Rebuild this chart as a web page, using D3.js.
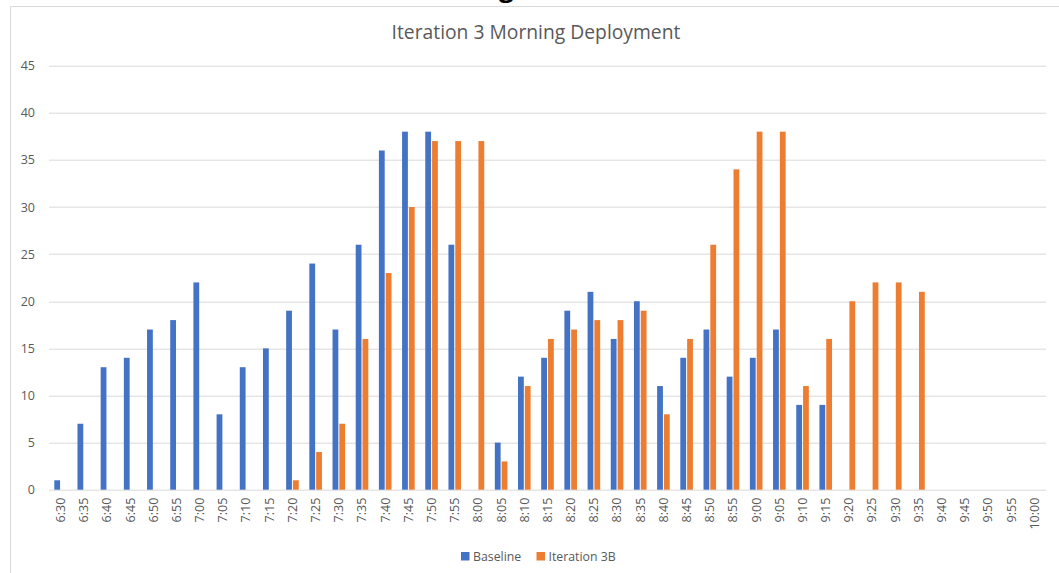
<!DOCTYPE html>
<html>
<head>
<meta charset="utf-8">
<script src="https://cdnjs.cloudflare.com/ajax/libs/d3/7.8.5/d3.min.js"></script>
<style>
  body { margin: 0; background: #fff; }
  svg { display: block; font-family: "Open Sans", sans-serif; }
  .axis text { fill: #595959; }
</style>
</head>
<body>
<svg width="1059" height="573"></svg>
<script>
var times = ["6:30", "6:35", "6:40", "6:45", "6:50", "6:55", "7:00", "7:05", "7:10", "7:15",
  "7:20", "7:25", "7:30", "7:35", "7:40", "7:45", "7:50", "7:55", "8:00", "8:05",
  "8:10", "8:15", "8:20", "8:25", "8:30", "8:35", "8:40", "8:45", "8:50", "8:55",
  "9:00", "9:05", "9:10", "9:15", "9:20", "9:25", "9:30", "9:35", "9:40", "9:45",
  "9:50", "9:55", "10:00"];

var baseline = [1, 7, 13, 14, 17, 18, 22, 8, 13, 15,
  19, 24, 17, 26, 36, 38, 38, 26, 0, 5,
  12, 14, 19, 21, 16, 20, 11, 14, 17, 12,
  14, 17, 9, 9, 0, 0, 0, 0, 0, 0,
  0, 0, 0];

var iteration3B = [0, 0, 0, 0, 0, 0, 0, 0, 0, 0,
  1, 4, 7, 16, 23, 30, 37, 37, 37, 3,
  11, 16, 17, 18, 18, 19, 8, 16, 26, 34,
  38, 38, 11, 16, 20, 22, 22, 21, 0, 0,
  0, 0, 0];

var seriesNames = ["Baseline", "Iteration 3B"];
var seriesColors = ["#4472C4", "#ED7D31"];
var yTicks = [0, 5, 10, 15, 20, 25, 30, 35, 40, 45];

var svg = d3.select("svg");
var margin = { top: 65.7, right: 13, bottom: 83.3, left: 49 };
var width = +svg.attr("width") - margin.left - margin.right;
var height = +svg.attr("height") - margin.top - margin.bottom;

// cropped heading above the chart frame (only its descender shows)
svg.append("text")
  .attr("x", 499)
  .attr("y", -3)
  .attr("font-size", 26)
  .attr("font-weight", "bold")
  .attr("fill", "#000")
  .text("g");

// chart frame (runs past the right and bottom edges)
svg.append("path")
  .attr("d", "M10.5,573V6.5H1059")
  .attr("fill", "none")
  .attr("stroke", "#D9D9D9");

svg.append("text")
  .attr("x", 536)
  .attr("y", 39)
  .attr("text-anchor", "middle")
  .attr("font-size", 19.3)
  .attr("fill", "#595959")
  .text("Iteration 3 Morning Deployment");

var g = svg.append("g")
  .attr("transform", "translate(" + margin.left + "," + margin.top + ")");

var scaleX = d3.scaleBand()
  .domain(times)
  .range([0, width]);

var scaleSeries = d3.scaleBand()
  .domain(seriesNames)
  .range([-6.3, 6.3])
  .paddingInner(0.15);

var scaleY = d3.scaleLinear()
  .domain([0, 45])
  .range([height, 0]);

g.append("g")
  .attr("class", "grid")
  .selectAll("line")
  .data(yTicks)
  .enter().append("line")
    .attr("x1", 0)
    .attr("x2", width)
    .attr("y1", function(d) { return Math.round(scaleY(d)) + 0.5; })
    .attr("y2", function(d) { return Math.round(scaleY(d)) + 0.5; })
    .attr("stroke", "#D9D9D9")
    .attr("stroke-width", 1);

var yAxis = d3.axisLeft(scaleY)
  .tickValues(yTicks)
  .tickSize(0)
  .tickPadding(14);

g.append("g")
  .attr("class", "axis y-axis")
  .call(yAxis)
  .call(function(sel) { sel.select(".domain").remove(); })
  .selectAll("text")
    .attr("font-size", 12.5)
    .attr("font-family", "Open Sans, sans-serif");

var xAxis = d3.axisBottom(scaleX).tickSize(0);

g.append("g")
  .attr("class", "axis x-axis")
  .attr("transform", "translate(0," + height + ")")
  .call(xAxis)
  .call(function(sel) { sel.select(".domain").remove(); })
  .selectAll("text")
    .attr("font-size", 12.5)
    .attr("font-family", "Open Sans, sans-serif")
    .attr("transform", "rotate(-90)")
    .attr("text-anchor", "end")
    .attr("x", -8)
    .attr("y", 0)
    .attr("dy", "0.35em");

var table = times.map(function(t, i) {
  return { time: t, values: [baseline[i], iteration3B[i]] };
});

var groups = g.selectAll(".group")
  .data(table)
  .enter().append("g")
    .attr("class", "group")
    .attr("transform", function(d) {
      return "translate(" + (scaleX(d.time) + scaleX.bandwidth() / 2) + ",0)";
    });

groups.selectAll("rect")
  .data(function(d) {
    return d.values.map(function(v, j) { return { name: seriesNames[j], value: v, color: seriesColors[j] }; });
  })
  .enter().append("rect")
    .attr("x", function(d) { return scaleSeries(d.name); })
    .attr("width", scaleSeries.bandwidth())
    .attr("y", function(d) { return scaleY(d.value); })
    .attr("height", function(d) { return height - scaleY(d.value); })
    .attr("fill", function(d) { return d.color; });

// legend
var legend = svg.append("g")
  .attr("class", "legend")
  .selectAll("g")
  .data(seriesNames)
  .enter().append("g")
    .attr("transform", function(d, i) { return "translate(" + [461, 536.5][i] + ",552)"; });

legend.append("rect")
  .attr("width", 8.5)
  .attr("height", 8.5)
  .attr("fill", function(d, i) { return seriesColors[i]; });

legend.append("text")
  .attr("x", 12)
  .attr("y", 8.8)
  .attr("font-size", 12.3)
  .attr("fill", "#595959")
  .text(function(d) { return d; });
</script>
</body>
</html>
